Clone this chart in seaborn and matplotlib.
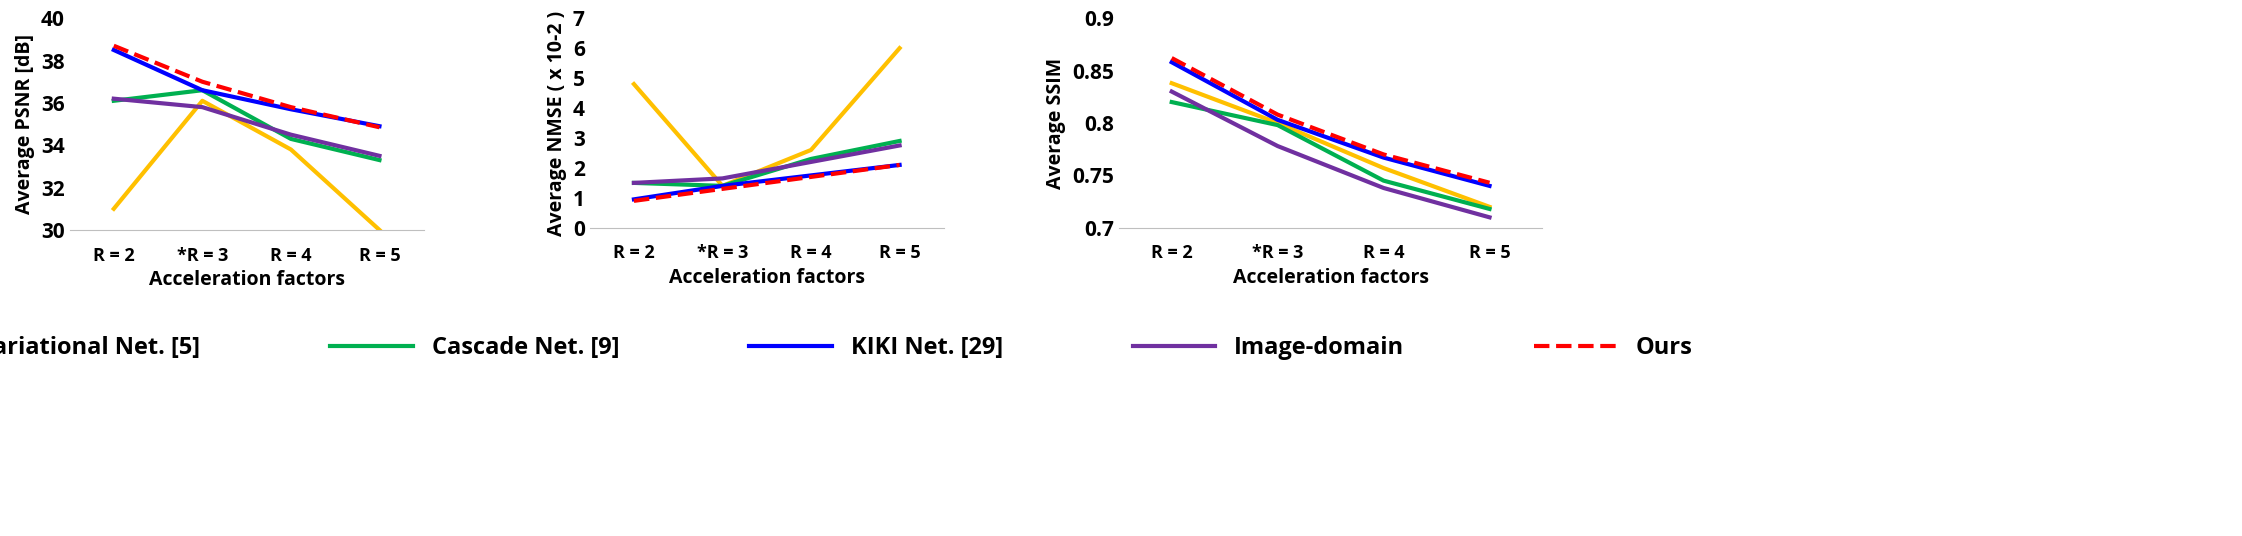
import matplotlib
matplotlib.use("Agg")
import matplotlib.pyplot as plt
import seaborn as sns
import pandas as pd

plt.rcParams["font.family"] = "Open Sans"
plt.rcParams["font.weight"] = "bold"

categories = ["R = 2", "*R = 3", "R = 4", "R = 5"]
methods = ["Variational Net. [5]", "Cascade Net. [9]", "KIKI Net. [29]", "Image-domain", "Ours"]
colors = ["#FFC000", "#00B050", "#0000FF", "#7030A0", "#FF0000"]

psnr = {
    "Variational Net. [5]": [31.0, 36.1, 33.8, 30.0],
    "Cascade Net. [9]": [36.1, 36.6, 34.3, 33.3],
    "KIKI Net. [29]": [38.5, 36.6, 35.7, 34.9],
    "Image-domain": [36.2, 35.8, 34.5, 33.5],
    "Ours": [38.7, 37.0, 35.8, 34.85],
}
nmse = {
    "Variational Net. [5]": [4.8, 1.4, 2.6, 6.0],
    "Cascade Net. [9]": [1.5, 1.4, 2.3, 2.9],
    "KIKI Net. [29]": [0.95, 1.4, 1.75, 2.1],
    "Image-domain": [1.5, 1.65, 2.2, 2.75],
    "Ours": [0.9, 1.3, 1.7, 2.1],
}
ssim = {
    "Variational Net. [5]": [0.838, 0.800, 0.757, 0.720],
    "Cascade Net. [9]": [0.820, 0.798, 0.745, 0.718],
    "KIKI Net. [29]": [0.858, 0.803, 0.767, 0.740],
    "Image-domain": [0.830, 0.778, 0.738, 0.710],
    "Ours": [0.862, 0.808, 0.770, 0.743],
}

def to_df(d):
    rows = []
    for m in methods:
        for c, v in zip(categories, d[m]):
            rows.append({"method": m, "cat": c, "val": v})
    return pd.DataFrame(rows)

fig = plt.figure(figsize=(22.42, 5.36), dpi=100)
axes_pos = [[0.031, 0.571, 0.158, 0.395],
            [0.263, 0.575, 0.158, 0.391],
            [0.499, 0.575, 0.189, 0.391]]
specs = [(psnr, "Average PSNR [dB]", (30, 40), [30, 32, 34, 36, 38, 40]),
         (nmse, "Average NMSE ( x 10-2 )", (0, 7), list(range(8))),
         (ssim, "Average SSIM", (0.7, 0.9), [0.7, 0.75, 0.8, 0.85, 0.9])]

for pos, (d, ylab, ylim, yt) in zip(axes_pos, specs):
    ax = fig.add_axes(pos)
    df = to_df(d)
    for m, col in zip(methods, colors):
        sub = df[df.method == m]
        sns.lineplot(data=sub, x="cat", y="val", ax=ax, color=col, lw=3,
                     linestyle="--" if m == "Ours" else "-", label=m, sort=False)
    ax.set_xlim(-0.5, 3.5)
    ax.set_ylim(*ylim)
    ax.set_yticks(yt)
    ax.set_yticklabels([f"{v:g}" for v in yt], fontsize=15)
    ax.tick_params(axis="x", labelsize=13, length=0, pad=12)
    ax.tick_params(axis="y", length=0)
    for s in ["top", "right", "left"]:
        ax.spines[s].set_visible(False)
    ax.spines["bottom"].set_color("#BFBFBF")
    ax.set_xlabel("Acceleration factors", fontsize=14, fontweight="bold", labelpad=4)
    ax.set_ylabel(ylab, fontsize=14, fontweight="bold")
    handles, labels = ax.get_legend_handles_labels()
    ax.get_legend().remove()

fig.legend(handles, labels, loc="center", bbox_to_anchor=(0.35, 0.35), ncol=5,
           frameon=False, handlelength=3.5, columnspacing=5.5,
           prop={"size": 17, "weight": "bold"})
fig.savefig("out.png", dpi=100)
